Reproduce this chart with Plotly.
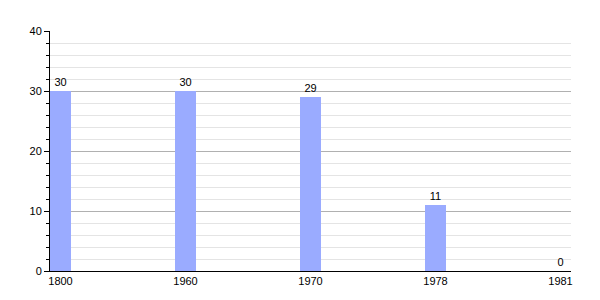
import plotly.graph_objects as go

years = ["1800", "1960", "1970", "1978", "1981"]
values = [30, 30, 29, 11, 0]

fig = go.Figure(go.Bar(
    x=years, y=values, width=0.168,
    marker=dict(color="#9aabff", line=dict(width=0)),
    text=[str(v) for v in values], textposition="outside",
    textfont=dict(family="Liberation Sans, Arial", size=11, color="#000"),
    cliponaxis=False,
))
fig.update_layout(
    width=600, height=300,
    margin=dict(l=50, r=29, t=31, b=29),
    plot_bgcolor="white", paper_bgcolor="white",
    font=dict(family="Liberation Sans, Arial", size=11, color="#000"),
    showlegend=False,
    xaxis=dict(type="category", range=[-0.084, 4.084], showline=True, linecolor="#000",
               linewidth=1, ticks="", showgrid=False, fixedrange=True),
    yaxis=dict(range=[0, 40], dtick=10, showline=True, linecolor="#000", linewidth=1,
               ticks="outside", ticklen=5, tickcolor="#000",
               showgrid=True, gridcolor="#b0b0b0", gridwidth=1, zeroline=False,
               minor=dict(dtick=2, ticks="outside", ticklen=3, tickcolor="#000",
                          showgrid=True, gridcolor="#e4e4e4", gridwidth=1)),
)
fig.write_html("out.html")
